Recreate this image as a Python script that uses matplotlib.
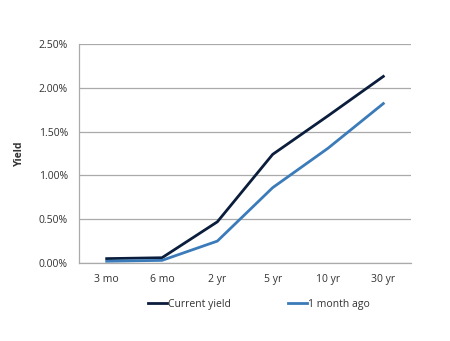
import matplotlib
matplotlib.use("Agg")
import matplotlib.pyplot as plt
from matplotlib.ticker import FuncFormatter

categories = ["3 mo", "6 mo", "2 yr", "5 yr", "10 yr", "30 yr"]
current_yield = [0.05, 0.06, 0.47, 1.24, 1.68, 2.13]
month_ago = [0.02, 0.03, 0.25, 0.86, 1.31, 1.82]
yticks = [0.0, 0.5, 1.0, 1.5, 2.0, 2.5]

plt.rcParams['font.family'] = ['Open Sans', 'DejaVu Sans']

fig = plt.figure(figsize=(4.5, 3.41), dpi=100)
ax = fig.add_axes([79/450, 1-263/341, (411-79)/450, (263-44)/341])

x = [i + 0.5 for i in range(len(categories))]
ax.plot(x, current_yield, color="#0b1d3c", lw=2, label="Current yield", solid_joinstyle='round')
ax.plot(x, month_ago, color="#3b7bb9", lw=2, label="1 month ago", solid_joinstyle='round')

ax.set_xlim(0, len(categories))
ax.set_ylim(0, 2.5)
ax.set_xticks(x)
ax.set_xticklabels(categories)
ax.set_yticks(yticks)
ax.yaxis.set_major_formatter(FuncFormatter(lambda v, p: f"{v:.2f}%"))
ax.grid(axis='y', color="#aaaaaa", lw=0.9)
ax.set_axisbelow(True)
for s in ["top", "right"]:
    ax.spines[s].set_visible(False)
for s in ["left", "bottom"]:
    ax.spines[s].set_color("#aaaaaa")
    ax.spines[s].set_linewidth(0.9)
ax.tick_params(length=0, labelsize=7.5, colors="#333333", pad=8)
ax.set_ylabel("Yield", fontsize=7.5, fontweight='bold', color="#333333", labelpad=10)

fig.legend(loc='center', bbox_to_anchor=(259/450, 1-304/341), ncol=2, frameon=False,
           fontsize=7.5, handlelength=1.8, handletextpad=0.1, columnspacing=5.5,
           labelcolor="#333333")

fig.savefig("out.png", dpi=100)
